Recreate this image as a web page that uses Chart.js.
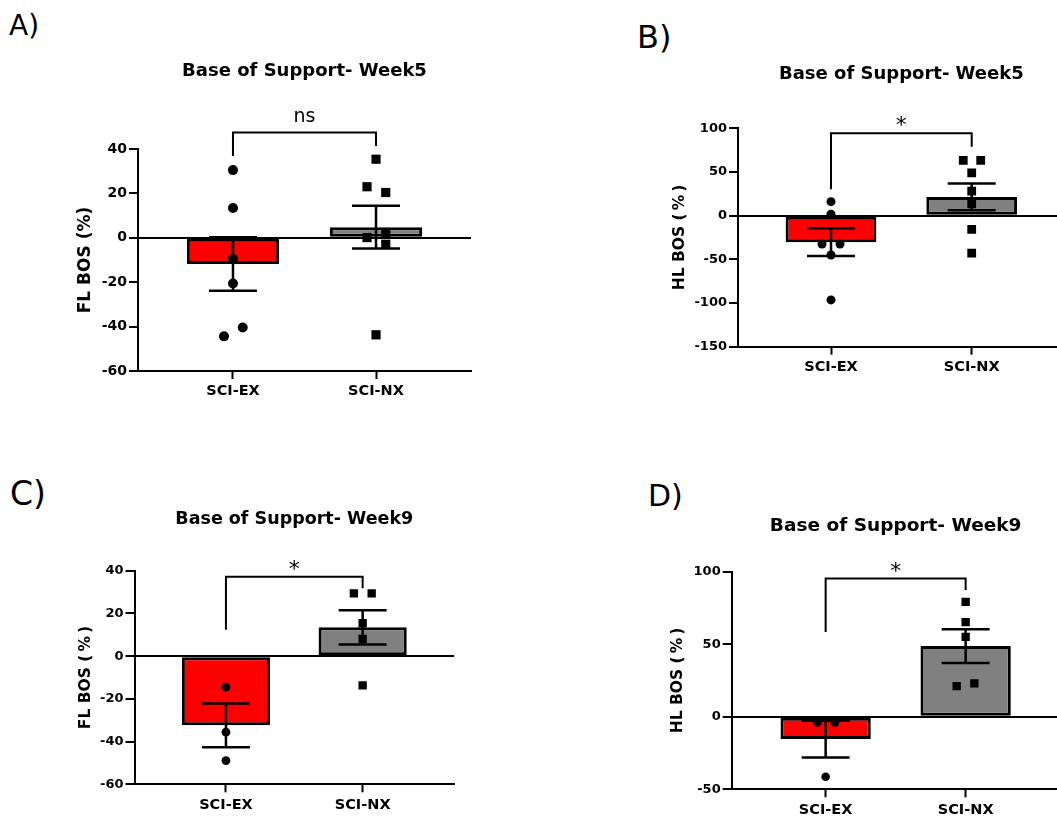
<!DOCTYPE html>
<html>
<head>
<meta charset="utf-8">
<script src="https://cdn.jsdelivr.net/npm/chart.js@4.4.1/dist/chart.umd.min.js"></script>
<style>
  html, body { margin: 0; padding: 0; background: #fff; width: 1057px; height: 817px; overflow: hidden; }
  canvas { position: absolute; }
  .tag { position: absolute; font-family: 'DejaVu Sans', sans-serif; line-height: 1; color: #000; }
</style>
</head>
<body>
<div class="tag" style="left:9px; top:12px; font-size:28px">A)</div>
<div class="tag" style="left:637px; top:21px; font-size:32px">B)</div>
<div class="tag" style="left:10px; top:477px; font-size:33px">C)</div>
<div class="tag" style="left:648px; top:481px; font-size:30px">D)</div>

<canvas id="chartA" width="528" height="420" style="left:0; top:0"></canvas>
<canvas id="chartB" width="560" height="420" style="left:528px; top:0"></canvas>
<canvas id="chartC" width="528" height="397" style="left:0; top:420px"></canvas>
<canvas id="chartD" width="560" height="397" style="left:528px; top:420px"></canvas>

<script>
const categories = ["SCI-EX", "SCI-NX"];

// A) forelimb BOS, week 5
const flWeek5Means = [-11.8, 4.8];
const flWeek5Sem = [12.1, 9.6];
const flWeek5Ex = [30.5, 13.4, -9.6, -20.6, -40.4, -44.4];
const flWeek5ExJitter = [0, 0, 0, 0, 0.068, -0.063];
const flWeek5Nx = [35.4, 23, 20.4, 0.1, 1.6, -2.9, -43.7];
const flWeek5NxJitter = [0, -0.063, 0.068, -0.063, 0.068, 0.068, 0];
const flWeek5Bracket = [47.4, 36.9, 41.4]; // top, left leg end, right leg end

// B) hindlimb BOS, week 5
const hlWeek5Means = [-30.4, 21.4];
const hlWeek5Sem = [15.9, 15.3];
const hlWeek5Ex = [16, 1.6, -32.4, -32.4, -45, -96.4];
const hlWeek5ExJitter = [0, 0, -0.064, 0.064, 0, 0];
const hlWeek5Nx = [63.4, 63.4, 49, 28, 13.4, -15.6, -43];
const hlWeek5NxJitter = [-0.06, 0.064, 0, 0, 0, 0, 0];
const hlWeek5Bracket = [94.3, 30.2, 79];

// C) forelimb BOS, week 9
const flWeek9Means = [-32.4, 13.5];
const flWeek9Sem = [10.2, 8];
const flWeek9Ex = [-14.5, -35.6, -48.9];
const flWeek9ExJitter = [0, 0, 0];
const flWeek9Nx = [29.4, 29.4, 15.4, 8.1, -13.7];
const flWeek9NxJitter = [-0.064, 0.066, 0, 0, 0];
const flWeek9Bracket = [37.2, 12.3, 31.8];

// D) hindlimb BOS, week 9
const hlWeek9Means = [-15.4, 48.7];
const hlWeek9Sem = [12.6, 11.6];
const hlWeek9Ex = [-3.9, -3.9, -41.3];
const hlWeek9ExJitter = [-0.06, 0.066, 0];
const hlWeek9Nx = [79.2, 65.2, 55.1, 21.1, 23];
const hlWeek9NxJitter = [0, 0, 0, -0.064, 0.062];
const hlWeek9Bracket = [95.3, 58.5, 87.3];

const flTicks = [-60, -40, -20, 0, 20, 40];
const hlWeek5Ticks = [-150, -100, -50, 0, 50, 100];
const hlWeek9Ticks = [-50, 0, 50, 100];

const FONT = "'DejaVu Sans', sans-serif";

function makeChart(id, p) {
  const toPoints = (vals, jit, cat) => vals.map((v, i) => ({ x: cat + jit[i], y: v }));

  const overlay = {
    id: 'overlay',
    afterDatasetsDraw(chart) {
      const { ctx, scales: { x, y } } = chart;
      ctx.save();
      ctx.strokeStyle = '#000';
      ctx.fillStyle = '#000';
      ctx.lineWidth = 2.5;
      // mean +/- SEM
      p.means.forEach((m, i) => {
        const px = x.getPixelForValue(i + 1);
        const hi = y.getPixelForValue(m + p.sem[i]);
        const lo = y.getPixelForValue(m - p.sem[i]);
        ctx.beginPath();
        ctx.moveTo(px, hi); ctx.lineTo(px, lo);
        ctx.moveTo(px - 24, hi); ctx.lineTo(px + 24, hi);
        ctx.moveTo(px - 24, lo); ctx.lineTo(px + 24, lo);
        ctx.stroke();
      });
      // significance bracket
      const x1 = x.getPixelForValue(1), x2 = x.getPixelForValue(2);
      const yt = y.getPixelForValue(p.bracket[0]);
      ctx.lineWidth = 2;
      ctx.beginPath();
      ctx.moveTo(x1, y.getPixelForValue(p.bracket[1]));
      ctx.lineTo(x1, yt);
      ctx.lineTo(x2, yt);
      ctx.lineTo(x2, y.getPixelForValue(p.bracket[2]));
      ctx.stroke();
      ctx.textAlign = 'center';
      ctx.textBaseline = 'alphabetic';
      if (p.sig === 'ns') {
        ctx.font = '19px ' + FONT;
        ctx.fillText('ns', (x1 + x2) / 2, yt - 10.5);
      } else {
        ctx.font = '22px ' + FONT;
        ctx.fillText(p.sig, (x1 + x2) / 2, yt - 1);
      }
      ctx.restore();
    }
  };

  new Chart(document.getElementById(id), {
    type: 'bar',
    data: {
      datasets: [
        {
          type: 'bar',
          data: p.means.map((m, i) => ({ x: i + 1, y: m })),
          backgroundColor: ['#ff0000', '#808080'],
          borderColor: '#000',
          borderWidth: 3,
          borderSkipped: false,
          categoryPercentage: 0.645,
          barPercentage: 1,
          order: 2
        },
        {
          type: 'scatter',
          data: toPoints(p.ex, p.exJitter, 1),
          pointStyle: 'circle',
          pointRadius: p.dot,
          backgroundColor: '#000',
          borderColor: '#000',
          borderWidth: 0,
          order: 1
        },
        {
          type: 'scatter',
          data: toPoints(p.nx, p.nxJitter, 2),
          pointStyle: 'rect',
          pointRadius: p.square,
          backgroundColor: '#000',
          borderColor: '#000',
          borderWidth: 0,
          order: 1
        }
      ]
    },
    options: {
      responsive: false,
      animation: false,
      events: [],
      layout: { padding: { left: 0, top: 0, right: p.padRight, bottom: 0 } },
      plugins: {
        legend: { display: false },
        tooltip: { enabled: false },
        title: {
          display: true,
          text: p.title,
          fullSize: false,
          color: '#000',
          font: { family: FONT, size: p.titleSize, weight: 'bold' },
          padding: { top: p.titleTop, bottom: p.titleBottom }
        }
      },
      scales: {
        x: {
          type: 'linear',
          offset: false,
          min: 1 - p.gap,
          max: 2 + p.gap,
          afterBuildTicks: s => { s.ticks = categories.map((c, i) => ({ value: i + 1 })); },
          afterFit: s => { s.height = p.xHeight; },
          grid: { offset: false, drawOnChartArea: false, tickLength: 8, tickColor: '#000', tickWidth: 2 },
          border: { display: true, color: '#000', width: 2 },
          ticks: {
            color: '#000',
            padding: 4,
            font: { family: FONT, size: 14.5, weight: 'bold' },
            callback: (v, i) => categories[i]
          }
        },
        y: {
          min: p.ticks[0],
          max: p.ticks[p.ticks.length - 1],
          afterBuildTicks: s => { s.ticks = p.ticks.map(v => ({ value: v })); },
          afterFit: s => { s.width = p.yWidth; },
          grid: {
            color: c => (c.tick && c.tick.value === 0 ? '#000' : 'rgba(0,0,0,0)'),
            lineWidth: 2,
            tickLength: 9,
            tickColor: '#000',
            tickWidth: 2
          },
          border: { display: true, color: '#000', width: 2 },
          ticks: {
            color: '#000',
            padding: 2,
            font: { family: FONT, size: p.tickSize, weight: 'bold' }
          },
          title: {
            display: true,
            text: p.yTitle,
            color: '#000',
            font: { family: FONT, size: p.yTitleSize, weight: 'bold' },
            padding: { top: p.yTitleOffset, bottom: 0 }
          }
        }
      }
    },
    plugins: [overlay]
  });
}

makeChart('chartA', {
  title: 'Base of Support- Week5', yTitle: 'FL BOS (%)', ticks: flTicks,
  means: flWeek5Means, sem: flWeek5Sem, ex: flWeek5Ex, exJitter: flWeek5ExJitter,
  nx: flWeek5Nx, nxJitter: flWeek5NxJitter, bracket: flWeek5Bracket, sig: 'ns',
  gap: 0.664, yWidth: 138, padRight: 57, xHeight: 49,
  titleSize: 18, titleTop: 60.2, titleBottom: 67.2,
  yTitleSize: 17, yTitleOffset: 75.8, tickSize: 14, dot: 5, square: 6.5
});

makeChart('chartB', {
  title: 'Base of Support- Week5', yTitle: 'HL BOS (\u2009%\u2009)', ticks: hlWeek5Ticks,
  means: hlWeek5Means, sem: hlWeek5Sem, ex: hlWeek5Ex, exJitter: hlWeek5ExJitter,
  nx: hlWeek5Nx, nxJitter: hlWeek5NxJitter, bracket: hlWeek5Bracket, sig: '*',
  gap: 0.661, yWidth: 210, padRight: 23.3, xHeight: 73.3,
  titleSize: 18, titleTop: 63.2, titleBottom: 43.5,
  yTitleSize: 15.5, yTitleOffset: 142.7, tickSize: 13, dot: 4.5, square: 6.2
});

makeChart('chartC', {
  title: 'Base of Support- Week9', yTitle: 'FL BOS (\u2009%\u2009)', ticks: flTicks,
  means: flWeek9Means, sem: flWeek9Sem, ex: flWeek9Ex, exJitter: flWeek9ExJitter,
  nx: flWeek9Nx, nxJitter: flWeek9NxJitter, bracket: flWeek9Bracket, sig: '*',
  gap: 0.669, yWidth: 134.5, padRight: 73.9, xHeight: 32.7,
  titleSize: 17.5, titleTop: 88.5, titleBottom: 41.2,
  yTitleSize: 15.5, yTitleOffset: 76.2, tickSize: 13, dot: 4.4, square: 5.9
});

makeChart('chartD', {
  title: 'Base of Support- Week9', yTitle: 'HL BOS (\u2009%\u2009)', ticks: hlWeek9Ticks,
  means: hlWeek9Means, sem: hlWeek9Sem, ex: hlWeek9Ex, exJitter: hlWeek9ExJitter,
  nx: hlWeek9Nx, nxJitter: hlWeek9NxJitter, bracket: hlWeek9Bracket, sig: '*',
  gap: 0.671, yWidth: 203.7, padRight: 28.4, xHeight: 27.7,
  titleSize: 18.5, titleTop: 94.9, titleBottom: 34.6,
  yTitleSize: 15.5, yTitleOffset: 140.2, tickSize: 13, dot: 4.3, square: 5.9
});
</script>
</body>
</html>
